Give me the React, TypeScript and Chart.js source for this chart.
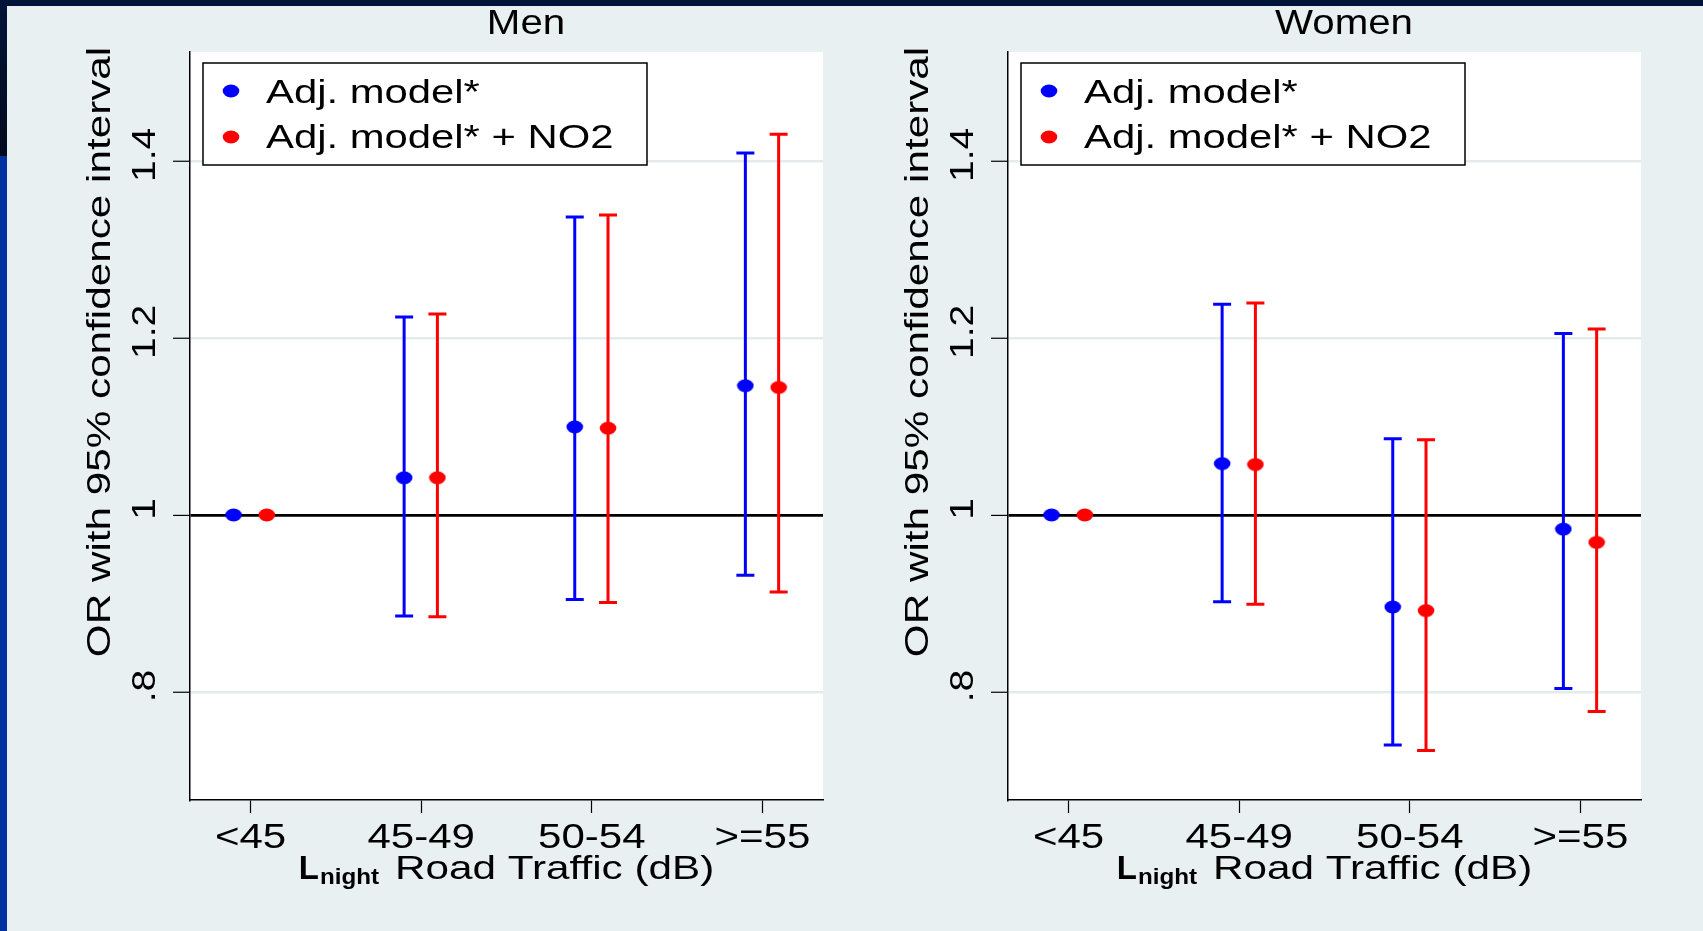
import React, { useEffect, useRef } from "react";
import { Chart, registerables } from "chart.js";

Chart.register(...registerables);

// ---------- data ----------
const categories = ["<45", "45-49", "50-54", ">=55"];
const yTickValues = [0.8, 1, 1.2, 1.4];
const yTickLabels = [".8", "1", "1.2", "1.4"];
const seriesLabels = ["Adj. model*", "Adj. model* + NO2"];
const yAxisTitle = "OR with 95% confidence interval";
const xAxisTitleMain = "L";
const xAxisTitleSub = "night";
const xAxisTitleRest = "Road Traffic (dB)";

const menAdj = [1, 1.042, 1.0995, 1.146];
const menAdjLow = [null, 0.886, 0.9045, 0.932];
const menAdjHigh = [null, 1.2235, 1.3365, 1.409];
const menNo2 = [1, 1.042, 1.098, 1.144];
const menNo2Low = [null, 0.885, 0.901, 0.913];
const menNo2High = [null, 1.227, 1.339, 1.43];

const womenAdj = [1, 1.058, 0.896, 0.984];
const womenAdjLow = [null, 0.902, 0.74, 0.804];
const womenAdjHigh = [null, 1.238, 1.086, 1.205];
const womenNo2 = [1, 1.057, 0.892, 0.969];
const womenNo2Low = [null, 0.899, 0.734, 0.778];
const womenNo2High = [null, 1.2395, 1.085, 1.21];

// ---------- style ----------
const FONT = "'Liberation Sans', Arial, Helvetica, sans-serif";
const BLUE = "#0000ff";
const RED = "#ff0000";
const BG = "#e9f0f2";
const GRID = "#e3ebee";
const OFFSET_A = -0.1;
const OFFSET_B = 0.095;

function makeDot(color: string) {
  const c = document.createElement("canvas");
  c.width = 18;
  c.height = 14;
  const g = c.getContext("2d")!;
  g.fillStyle = color;
  g.beginPath();
  g.ellipse(9, 7, 8.3, 6.5, 0, 0, Math.PI * 2);
  g.fill();
  return c;
}

function txt(
  ctx: CanvasRenderingContext2D,
  s: string,
  x: number,
  y: number,
  size: number,
  sx: number,
  align: CanvasTextAlign = "left",
  weight = "normal",
  rotate = false
) {
  ctx.save();
  ctx.translate(x, y);
  if (rotate) ctx.rotate(-Math.PI / 2);
  ctx.scale(sx, 1);
  ctx.font = `${weight} ${size}px ${FONT}`;
  ctx.textAlign = align;
  ctx.textBaseline = "alphabetic";
  ctx.fillStyle = "#000";
  ctx.fillText(s, 0, 0);
  ctx.restore();
}

function measure(ctx: CanvasRenderingContext2D, s: string, size: number, sx: number, weight = "normal") {
  ctx.save();
  ctx.font = `${weight} ${size}px ${FONT}`;
  const w = ctx.measureText(s).width * sx;
  ctx.restore();
  return w;
}

type PanelCfg = {
  title: string;
  a: number[];
  aLow: (number | null)[];
  aHigh: (number | null)[];
  b: number[];
  bLow: (number | null)[];
  bHigh: (number | null)[];
  padLeft: number;
  padRight: number;
};

const panelPlugin = {
  id: "panelDeco",
  beforeDraw(chart: any) {
    const { ctx, chartArea } = chart;
    ctx.save();
    ctx.fillStyle = "#ffffff";
    ctx.fillRect(chartArea.left, chartArea.top, chartArea.right - chartArea.left, chartArea.bottom - chartArea.top);
    ctx.restore();
  },
  beforeDatasetsDraw(chart: any) {
    const { ctx } = chart;
    const xs = chart.scales.x;
    const ys = chart.scales.y;
    chart.data.datasets.forEach((ds: any) => {
      ds.data.forEach((p: any, i: number) => {
        const lo = ds.errLow[i];
        const hi = ds.errHigh[i];
        if (lo == null || hi == null) return;
        const x = xs.getPixelForValue(p.x);
        const y1 = ys.getPixelForValue(lo);
        const y2 = ys.getPixelForValue(hi);
        ctx.save();
        ctx.strokeStyle = ds.borderColor;
        ctx.lineWidth = 3;
        ctx.lineCap = "butt";
        ctx.beginPath();
        ctx.moveTo(x, y1);
        ctx.lineTo(x, y2);
        ctx.moveTo(x - 9, y1);
        ctx.lineTo(x + 9, y1);
        ctx.moveTo(x - 9, y2);
        ctx.lineTo(x + 9, y2);
        ctx.stroke();
        ctx.restore();
      });
    });
  },
  afterDraw(chart: any) {
    const { ctx, chartArea } = chart;
    const xs = chart.scales.x;
    const ys = chart.scales.y;
    const cfg = chart.options.plugins.panelDeco;
    const L = chartArea.left;
    const R = chartArea.right;

    // panel title
    txt(ctx, cfg.title, L + 336, 34, 35, 1.15, "center");

    // y tick labels (rotated)
    yTickValues.forEach((v, i) => {
      const y = ys.getPixelForValue(v);
      txt(ctx, yTickLabels[i], L - 35, y - 6, 34, 1.15, "center", "normal", true);
    });

    // y axis title
    txt(ctx, yAxisTitle, L - 80, 352, 33, 1.28, "center", "normal", true);

    // x tick labels
    categories.forEach((c, i) => {
      const x = xs.getPixelForValue(i);
      txt(ctx, c, x, 848, 35, 1.2, "center");
    });

    // x axis title
    const wL = measure(ctx, xAxisTitleMain, 33, 1.0, "bold");
    const wN = measure(ctx, xAxisTitleSub, 22, 1.1, "bold");
    const wR = measure(ctx, xAxisTitleRest, 33, 1.28);
    const total = wL + 1 + wN + 16 + wR;
    let sx = (L + R) / 2 - total / 2;
    txt(ctx, xAxisTitleMain, sx, 879, 33, 1.0, "left", "bold");
    sx += wL + 1;
    txt(ctx, xAxisTitleSub, sx, 884, 22, 1.1, "left", "bold");
    sx += wN + 16;
    txt(ctx, xAxisTitleRest, sx, 879, 33, 1.28, "left");

    // legend
    const bx = L + 13;
    const by = 63;
    ctx.save();
    ctx.fillStyle = "#ffffff";
    ctx.fillRect(bx, by, 444, 102);
    ctx.strokeStyle = "#000";
    ctx.lineWidth = 1.5;
    ctx.strokeRect(bx, by, 444, 102);
    ctx.restore();
    const rows = [
      { y: 91, base: 103 },
      { y: 137, base: 148 },
    ];
    chart.data.datasets.forEach((ds: any, i: number) => {
      const img = ds.pointStyle as HTMLCanvasElement;
      ctx.drawImage(img, bx + 28 - img.width / 2, rows[i].y - img.height / 2);
      txt(ctx, ds.label, bx + 63, rows[i].base, 34, 1.23, "left");
    });
  },
};

function buildChart(canvas: HTMLCanvasElement, cfg: PanelCfg) {
  const blueDot = makeDot(BLUE);
  const redDot = makeDot(RED);
  return new Chart(canvas, {
    type: "scatter",
    data: {
      datasets: [
        {
          label: seriesLabels[0],
          data: cfg.a.map((v, i) => ({ x: i + OFFSET_A, y: v })),
          pointStyle: blueDot,
          pointRadius: 8,
          backgroundColor: BLUE,
          borderColor: BLUE,
          errLow: cfg.aLow,
          errHigh: cfg.aHigh,
        } as any,
        {
          label: seriesLabels[1],
          data: cfg.b.map((v, i) => ({ x: i + OFFSET_B, y: v })),
          pointStyle: redDot,
          pointRadius: 8,
          backgroundColor: RED,
          borderColor: RED,
          errLow: cfg.bLow,
          errHigh: cfg.bHigh,
        } as any,
      ],
    },
    options: {
      animation: false,
      responsive: false,
      devicePixelRatio: 1,
      events: [],
      layout: { padding: { left: cfg.padLeft, right: cfg.padRight, top: 52, bottom: 118 } },
      plugins: {
        legend: { display: false },
        tooltip: { enabled: false },
        title: { display: false },
        panelDeco: { title: cfg.title },
      } as any,
      scales: {
        x: {
          type: "linear",
          min: -0.355,
          max: 3.355,
          afterBuildTicks: (s: any) => {
            s.ticks = categories.map((_, i) => ({ value: i }));
          },
          afterFit: (s: any) => {
            s.height = 13;
          },
          ticks: { display: false },
          grid: {
            drawOnChartArea: false,
            drawTicks: true,
            tickLength: 13,
            tickColor: "#000",
            tickWidth: 1.2,
          },
          border: { display: true, color: "#000", width: 1.5 },
        },
        y: {
          type: "linear",
          min: 0.678,
          max: 1.523,
          afterBuildTicks: (s: any) => {
            s.ticks = yTickValues.map((v) => ({ value: v }));
          },
          afterFit: (s: any) => {
            s.width = 17;
          },
          ticks: { display: false },
          grid: {
            color: (c: any) => (c.tick && c.tick.value === 1 ? "#000000" : GRID),
            lineWidth: (c: any) => (c.tick && c.tick.value === 1 ? 2.8 : 2.5),
            drawTicks: true,
            tickLength: 17,
            tickColor: "#000",
            tickWidth: 1.2,
          },
          border: { display: true, color: "#000", width: 1.5 },
        },
      },
    } as any,
    plugins: [panelPlugin as any],
  });
}

export default function App() {
  const refA = useRef<HTMLCanvasElement>(null);
  const refB = useRef<HTMLCanvasElement>(null);

  useEffect(() => {
    const a = buildChart(refA.current!, {
      title: "Men",
      a: menAdj,
      aLow: menAdjLow,
      aHigh: menAdjHigh,
      b: menNo2,
      bLow: menNo2Low,
      bHigh: menNo2High,
      padLeft: 173,
      padRight: 27,
    });
    const b = buildChart(refB.current!, {
      title: "Women",
      a: womenAdj,
      aLow: womenAdjLow,
      aHigh: womenAdjHigh,
      b: womenNo2,
      bLow: womenNo2Low,
      bHigh: womenNo2High,
      padLeft: 141,
      padRight: 62,
    });
    return () => {
      a.destroy();
      b.destroy();
    };
  }, []);

  return (
    <div
      style={{
        position: "fixed",
        left: 0,
        top: 0,
        width: 1703,
        height: 931,
        background: BG,
        overflow: "hidden",
      }}
    >
      <div style={{ position: "absolute", left: 0, top: 0, width: 1703, height: 6, background: "#00143a" }} />
      <div
        style={{
          position: "absolute",
          left: 0,
          top: 0,
          width: 7,
          height: 156,
          background: "linear-gradient(#00143a, #030a1c)",
        }}
      />
      <div style={{ position: "absolute", left: 0, top: 156, width: 7, height: 775, background: "#0033a0" }} />
      <canvas
        ref={refA}
        width={850}
        height={931}
        style={{ position: "absolute", left: 0, top: 0, width: 850, height: 931 }}
      />
      <canvas
        ref={refB}
        width={853}
        height={931}
        style={{ position: "absolute", left: 850, top: 0, width: 853, height: 931 }}
      />
    </div>
  );
}
